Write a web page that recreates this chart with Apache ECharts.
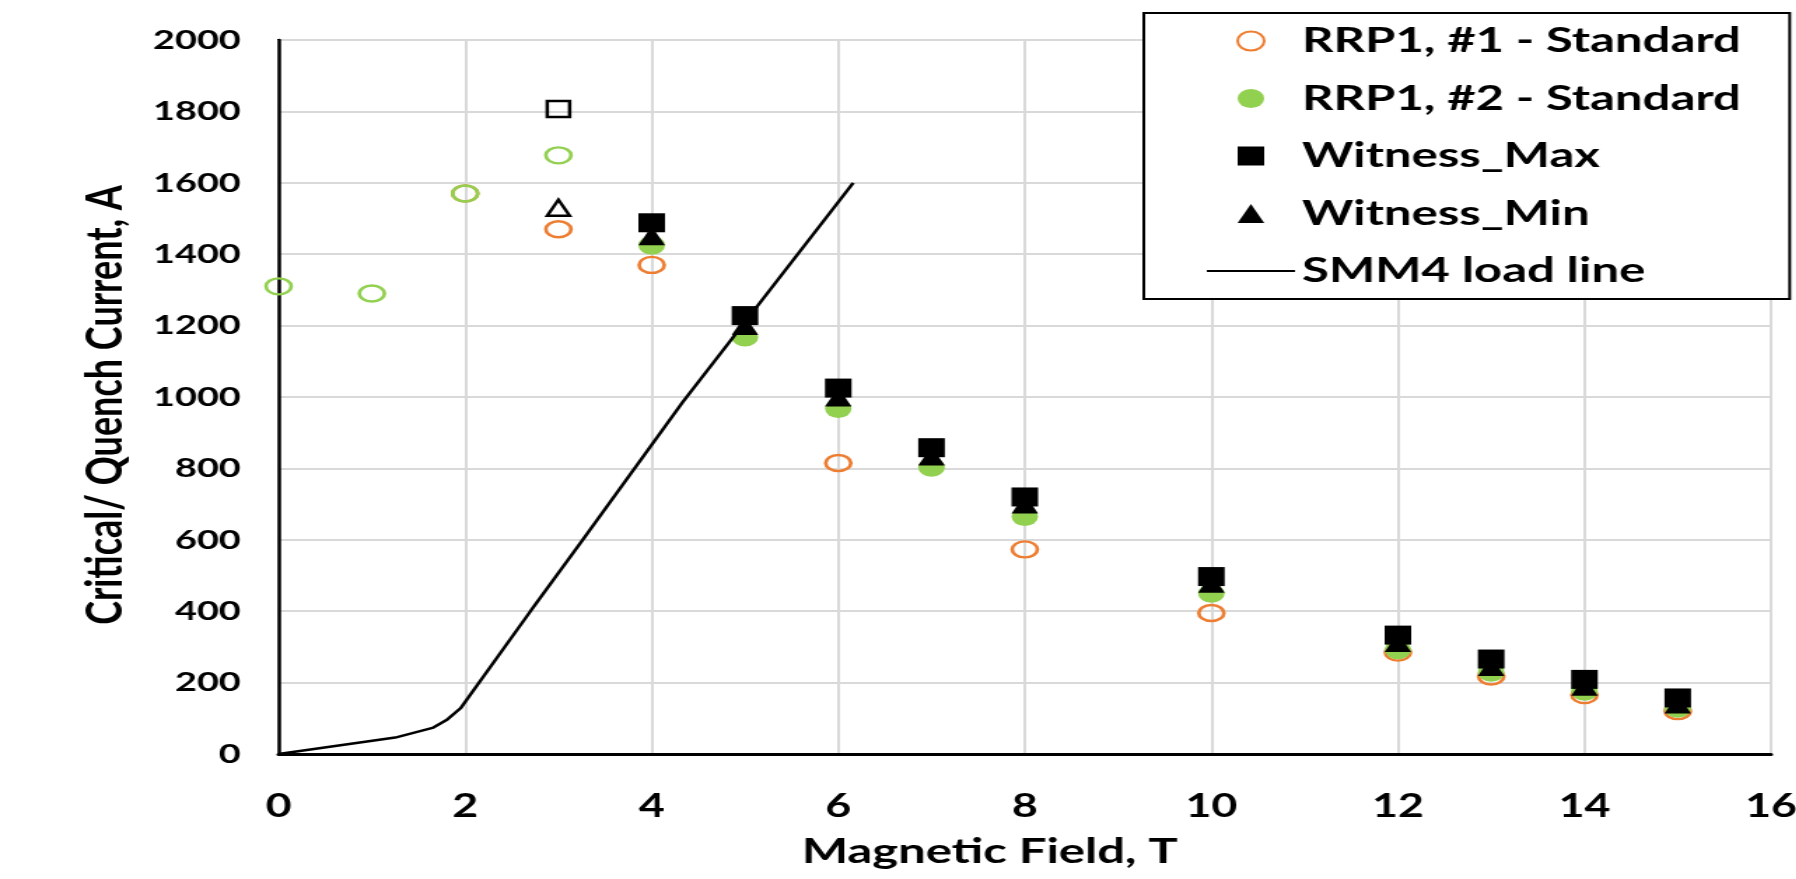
<!DOCTYPE html>
<html>
	<head>
		<meta charset="utf-8">
		<title></title>
		<script src="https://cdn.jsdelivr.net/npm/echarts@6/dist/echarts.min.js"></script>
		<style>
			body{margin:0;overflow:hidden;background:#fff;}
			/* the source picture is stretched sideways, so draw narrower and stretch */
			#my{width:1283px;height:879px;transform:scaleX(1.4);transform-origin:0 0;}
		</style>
	</head>
	<body>
		<div id="my"></div>

		<script>
			// field (T) for each series
			var fieldRrp1 = [2, 3, 4, 6, 8, 10, 12, 13, 14, 15];
			var currentRrp1 = [1570, 1470, 1370, 815, 573, 395, 284, 217, 165, 120];

			var fieldRrp2 = [4, 5, 6, 7, 8, 10, 12, 13, 14, 15];
			var currentRrp2 = [1425, 1168, 968, 803, 665, 450, 292, 229, 176, 128];

			var fieldWitness = [4, 5, 6, 7, 8, 10, 12, 13, 14, 15];
			var witnessMax = [1488, 1228, 1025, 858, 720, 497, 333, 266, 209, 157];
			var witnessMin = [1452, 1200, 1000, 835, 700, 478, 312, 245, 190, 140];

			// points without a legend entry
			var fieldOpenGreen = [0, 1, 2, 3];
			var currentOpenGreen = [1310, 1290, 1570, 1677];
			var fieldOpenBlack = [3];
			var openSquare = [1807];
			var openTriangle = [1530];

			// SMM4 load line
			var loadField = [0, 1.25, 1.65, 1.8, 1.95, 2.7, 3.26, 4.33, 6.16];
			var loadCurrent = [0, 46, 73, 95, 128, 400, 600, 985, 1600];

			var names = ['RRP1, #1 - Standard', 'RRP1, #2 - Standard', 'Witness_Max', 'Witness_Min', 'SMM4 load line'];
			var xTicks = [0, 16, 2];
			var yTicks = [0, 2000, 200];

			var orange = '#ED7D31';
			var green = '#92D050';
			var font = 'Lato';

			function pairs(xs, ys){
				return xs.map(function(x, i){ return [x, ys[i]]; });
			}

			var myChart = echarts.init(document.getElementById('my'));

			var option = {
				backgroundColor: '#fff',
				animation: false,
				grid: {
					left: 199,
					right: 18,
					top: 40,
					bottom: 125,
					outerBoundsMode: 'none',//let the 16 run off the edge
					show: true,
					borderColor: '#000',
					borderWidth: 2
				},
				legend: {
					orient: 'vertical',
					left: 817,
					top: 13,
					padding: [8, 35, 8, 45],
					itemWidth: 63,
					itemHeight: 19,
					itemGap: 17.5,
					backgroundColor: '#fff',
					borderColor: '#000',
					borderWidth: 2,
					symbolKeepAspect: true,
					textStyle: {
						fontFamily: font,
						fontWeight: 'bold',
						fontSize: 35,
						lineHeight: 40,
						color: '#000'
					},
					data: [
						{name: names[0], icon: 'circle'},
						{name: names[1], icon: 'circle'},
						{name: names[2], icon: 'path://M0,0L10,0L10,10L0,10Z'},
						{name: names[3], icon: 'path://M5,0L10,10L0,10Z'},
						{name: names[4], icon: 'path://M0,0L63,0L63,2.2L0,2.2Z'}
					]
				},
				xAxis: {
					type: 'value',
					min: xTicks[0],
					max: xTicks[1],
					interval: xTicks[2],
					name: 'Magnetic Field, T',
					nameLocation: 'middle',
					nameGap: 80,
					nameTextStyle: {
						fontFamily: font,
						fontWeight: 'bold',
						fontSize: 35,
						color: '#000',
						padding: [0, 50, 0, 0]
					},
					axisLine: {lineStyle: {color: '#000', width: 3}},
					axisTick: {show: false},
					axisLabel: {
						margin: 37,
						fontFamily: font,
						fontWeight: 'bold',
						fontSize: 32,
						color: '#000'
					},
					splitLine: {lineStyle: {color: '#d9d9d9', width: 2}}
				},
				yAxis: {
					type: 'value',
					min: yTicks[0],
					max: yTicks[1],
					interval: yTicks[2],
					name: 'Critical/ Quench Current, A',
					nameLocation: 'middle',
					nameGap: 106,
					nameTextStyle: {
						fontFamily: font,
						fontWeight: 'bold',
						fontSize: 36,
						color: '#000',
						padding: [0, 16, 0, 0]
					},
					axisLine: {show: true, lineStyle: {color: '#000', width: 2.5}},
					axisTick: {show: false},
					axisLabel: {
						margin: 27,
						fontFamily: font,
						fontWeight: 'bold',
						fontSize: 27,
						color: '#000',
						formatter: function(v){ return String(v); }
					},
					splitLine: {lineStyle: {color: '#d9d9d9', width: 2}}
				},
				series: [
					{
						name: names[0],
						type: 'scatter',
						symbol: 'circle',
						symbolSize: [18, 16],
						itemStyle: {color: 'rgba(0,0,0,0)', borderColor: orange, borderWidth: 2.5, opacity: 1},
						data: pairs(fieldRrp1, currentRrp1),
						z: 2
					},
					{
						name: names[1],
						type: 'scatter',
						symbol: 'circle',
						symbolSize: 19,
						itemStyle: {color: green, opacity: 1},
						data: pairs(fieldRrp2, currentRrp2),
						z: 3
					},
					{
						name: names[3],
						type: 'scatter',
						symbol: 'triangle',
						symbolSize: 19,
						itemStyle: {color: '#000', opacity: 1},
						data: pairs(fieldWitness, witnessMin),
						z: 4
					},
					{
						name: names[2],
						type: 'scatter',
						symbol: 'rect',
						symbolSize: 19,
						itemStyle: {color: '#000', opacity: 1},
						data: pairs(fieldWitness, witnessMax),
						z: 5
					},
					{
						name: 'open green',
						type: 'scatter',
						symbol: 'circle',
						symbolSize: [18, 16],
						itemStyle: {color: 'rgba(0,0,0,0)', borderColor: green, borderWidth: 2.5, opacity: 1},
						data: pairs(fieldOpenGreen, currentOpenGreen),
						z: 3
					},
					{
						name: 'open max',
						type: 'scatter',
						symbol: 'rect',
						symbolSize: 16,
						itemStyle: {color: 'rgba(0,0,0,0)', borderColor: '#000', borderWidth: 2.5, opacity: 1},
						data: pairs(fieldOpenBlack, openSquare),
						z: 3
					},
					{
						name: 'open min',
						type: 'scatter',
						symbol: 'triangle',
						symbolSize: 16,
						itemStyle: {color: 'rgba(0,0,0,0)', borderColor: '#000', borderWidth: 2.5, opacity: 1},
						data: pairs(fieldOpenBlack, openTriangle),
						z: 3
					},
					{
						name: names[4],
						type: 'line',
						symbol: 'none',
						lineStyle: {color: '#000', width: 2.5},
						itemStyle: {color: '#000'},
						data: pairs(loadField, loadCurrent),
						z: 6
					}
				]
			};

			myChart.setOption(option);
		</script>
	</body>
</html>
